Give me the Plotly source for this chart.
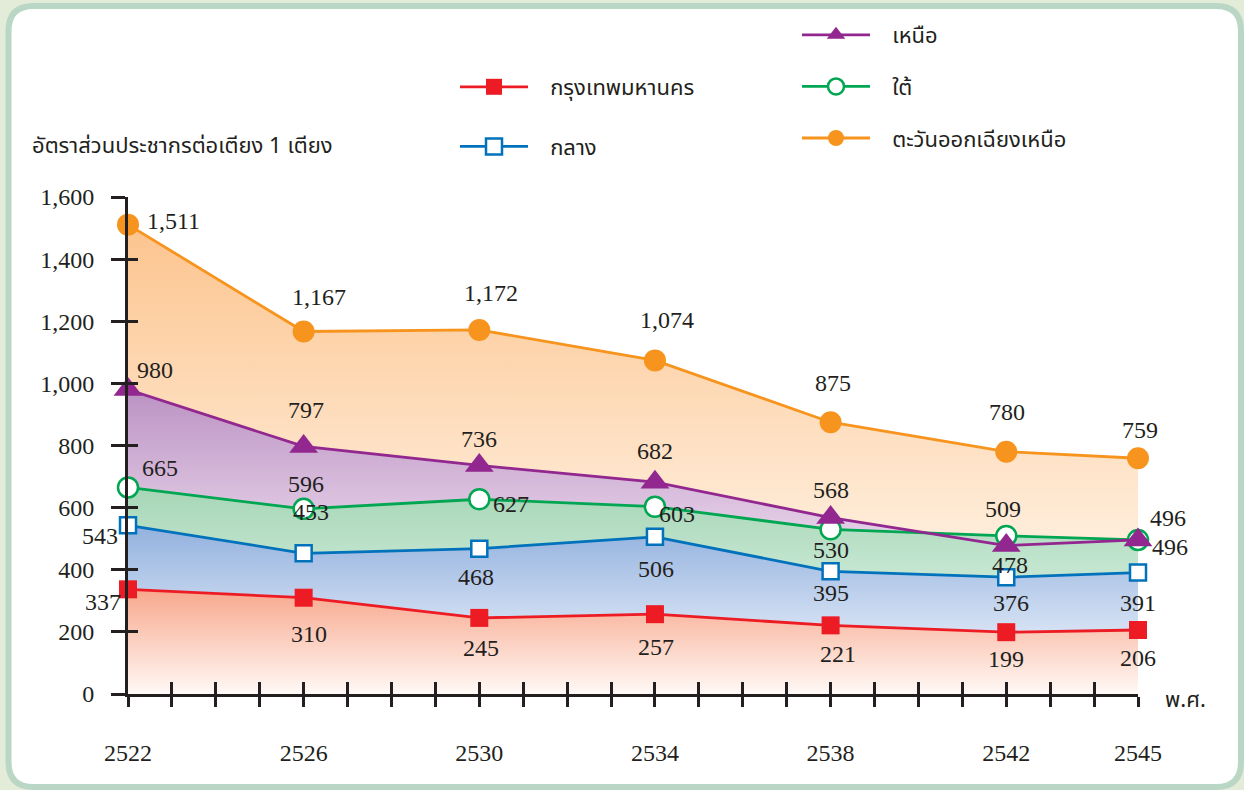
import plotly.graph_objects as go

# ---------------- data ----------------
years = [2522, 2526, 2530, 2534, 2538, 2542, 2545]
bangkok = [337, 310, 245, 257, 221, 199, 206]
central = [543, 453, 468, 506, 395, 376, 391]
south = [665, 596, 627, 603, 530, 509, 496]
north = [980, 797, 736, 682, 568, 478, 496]
northeast = [1511, 1167, 1172, 1074, 875, 780, 759]
y_ticks = [0, 200, 400, 600, 800, 1000, 1200, 1400, 1600]
names = {
    "bkk": "กรุงเทพมหานคร",
    "cen": "กลาง",
    "nor": "เหนือ",
    "sou": "ใต้",
    "ne": "ตะวันออกเฉียงเหนือ",
}
y_title = "อัตราส่วนประชากรต่อเตียง 1 เตียง"
x_unit = "พ.ศ."

# label offsets in pixels (dx right, dy down) -- styling only
off_bkk = [(-25, 13), (5, 36), (2, 30), (1, 33), (7, 29), (0, 27), (0, 28)]
off_cen = [(-28, 11), (7, -41), (-3, 28), (1, 32), (0, 22), (5, 26), (0, 30)]
off_sou = [(32, -19), (2, -25), (32, 5), (22, 7), (0, 21), (-3, -27), (30, -22)]
off_nor = [(27, -20), (2, -36), (0, -26), (0, -31), (0, -28), (4, 19), (32, 7)]
off_ne = [(45, -4), (15, -35), (12, -37), (12, -40), (2, -39), (1, -40), (2, -28)]

# ---------------- style ----------------
C_RED = "#ed1c24"
C_BLUE = "#0072bc"
C_GREEN = "#00a651"
C_PURPLE = "#92278f"
C_ORANGE = "#f7941d"
TXT = "#231f20"
NUM_FONT = "Liberation Serif, Times New Roman, serif"
THAI_FONT = "Noto Sans Thai, Noto Sans Thai UI, Loma, Garuda, Sarabun, Tlwg Typo, Noto Sans, sans-serif"
PAD = "\u00a0\u00a0\u00a0"

W, H = 1244, 790
L, R, T, B = 128, 106, 197, 96
PW, PH = W - L - R, H - T - B


def px(x):
    return (x - L) / PW


def py(y):
    return (H - B - y) / PH


fig = go.Figure()

# gradient fills (drawn back to front)
fills = [
    (northeast, "#fff1e2", "#fcc48e", 400, 1511),
    (north, "#e8d4ea", "#bb92c3", 480, 980),
    (south, "#c6e7d2", "#a6d6b6", 380, 665),
    (central, "#d6e2f4", "#92b1de", 200, 543),
    (bangkok, "#fff9f6", "#f8a78c", 0, 337),
]
for vals, c0, c1, s0, s1 in fills:
    fig.add_trace(go.Scatter(
        x=years, y=vals, mode="none", fill="tozeroy",
        fillgradient=dict(type="vertical", colorscale=[[0, c0], [1, c1]], start=s0, stop=s1),
        showlegend=False, hoverinfo="skip",
    ))

# lines + markers
series = [
    ("bkk", bangkok, C_RED, dict(symbol="square", size=18, color=C_RED, line=dict(width=0)), "legend", 1),
    ("cen", central, C_BLUE, dict(symbol="square", size=16, color="white", line=dict(width=2.5, color=C_BLUE)), "legend", 2),
    ("sou", south, C_GREEN, dict(symbol="circle", size=20, color="white", line=dict(width=2.5, color=C_GREEN)), "legend2", 2),
    ("nor", north, C_PURPLE, dict(symbol="triangle-up", size=25, color=C_PURPLE, line=dict(width=0)), "legend2", 1),
    ("ne", northeast, C_ORANGE, dict(symbol="circle", size=22, color=C_ORANGE, line=dict(width=0)), "legend2", 3),
]
for key, vals, col, mk, lg, rank in series:
    fig.add_trace(go.Scatter(
        x=years, y=vals, mode="lines+markers", name=PAD + names[key],
        line=dict(color=col, width=2.8), marker=mk, cliponaxis=False,
        legend=lg, legendgroup=key, legendrank=rank,
    ))

# dummy trace to activate overlay axes (for crossing ticks)
fig.add_trace(go.Scatter(x=years, y=bangkok, xaxis="x2", yaxis="y2", mode="none",
                         showlegend=False, hoverinfo="skip"))

# value labels
annotations = []
for vals, offs in [(bangkok, off_bkk), (central, off_cen), (south, off_sou),
                   (north, off_nor), (northeast, off_ne)]:
    for xv, yv, (dx, dy) in zip(years, vals, offs):
        annotations.append(dict(
            x=xv, y=yv, xref="x", yref="y", text=f"{yv:,}", showarrow=False,
            xshift=dx, yshift=-dy, font=dict(family=NUM_FONT, size=24, color=TXT),
        ))

annotations.append(dict(x=px(30), y=py(146), xref="paper", yref="paper", text=y_title,
                        showarrow=False, xanchor="left", yanchor="middle",
                        font=dict(family=THAI_FONT, size=22, color=TXT)))
annotations.append(dict(x=px(1163), y=py(700), xref="paper", yref="paper", text=x_unit,
                        showarrow=False, xanchor="left", yanchor="middle",
                        font=dict(family=THAI_FONT, size=22, color=TXT)))

# rounded white panel
lft, top, rgt, bot, rr = 8.5, 6, 1241, 787, 25
path = (f"M {px(lft + rr)},{py(top)} H {px(rgt - rr)} Q {px(rgt)},{py(top)} {px(rgt)},{py(top + rr)} "
        f"V {py(bot - rr)} Q {px(rgt)},{py(bot)} {px(rgt - rr)},{py(bot)} "
        f"H {px(lft + rr)} Q {px(lft)},{py(bot)} {px(lft)},{py(bot - rr)} "
        f"V {py(top + rr)} Q {px(lft)},{py(top)} {px(lft + rr)},{py(top)} Z")
shapes = [dict(type="path", path=path, xref="paper", yref="paper", layer="below",
               fillcolor="white", line=dict(color="#bad6c4", width=6))]

all_years = list(range(years[0], years[-1] + 1))

axis_common = dict(showgrid=False, zeroline=False, automargin=False)
fig.update_layout(
    width=W, height=H,
    margin=dict(l=L, r=R, t=T, b=B, autoexpand=False),
    paper_bgcolor="#e2ecd8", plot_bgcolor="rgba(0,0,0,0)",
    shapes=shapes, annotations=annotations,
    xaxis=dict(range=[years[0], years[-1]], tickmode="array", tickvals=years,
               ticktext=[str(y) for y in years], ticks="outside", ticklen=10, tickwidth=3,
               tickcolor=TXT, showline=True, linecolor=TXT, linewidth=3,
               minor=dict(tickmode="array", tickvals=all_years, ticks="outside", ticklen=10,
                          tickwidth=3, tickcolor=TXT),
               tickfont=dict(family=NUM_FONT, size=24, color=TXT), ticklabelstandoff=25,
               **axis_common),
    yaxis=dict(range=[0, 1600], tickmode="array", tickvals=y_ticks,
               ticktext=[f"{v:,}" for v in y_ticks], ticks="outside", ticklen=14, tickwidth=3,
               tickcolor=TXT, showline=True, linecolor=TXT, linewidth=3,
               tickfont=dict(family=NUM_FONT, size=24, color=TXT), ticklabelstandoff=12,
               **axis_common),
    xaxis2=dict(range=[years[0], years[-1]], overlaying="x", anchor="y2", tickmode="array",
                tickvals=all_years, ticks="inside", ticklen=12, tickwidth=3, tickcolor=TXT,
                showticklabels=False, showline=False, **axis_common),
    yaxis2=dict(range=[0, 1600], overlaying="y", anchor="x2", tickmode="array",
                tickvals=y_ticks, ticks="inside", ticklen=10, tickwidth=3, tickcolor=TXT,
                showticklabels=False, showline=False, **axis_common),
    legend=dict(x=px(455), y=py(66), xanchor="left", yanchor="top", bgcolor="rgba(0,0,0,0)",
                font=dict(family=THAI_FONT, size=22, color=TXT), itemwidth=68,
                traceorder="grouped", tracegroupgap=28),
    legend2=dict(x=px(797), y=py(14), xanchor="left", yanchor="top", bgcolor="rgba(0,0,0,0)",
                 font=dict(family=THAI_FONT, size=22, color=TXT), itemwidth=68,
                 traceorder="grouped", tracegroupgap=20),
    showlegend=True,
)

fig.write_html("out.html", config={"displayModeBar": False},
               post_script="document.body.style.margin='0';document.body.style.padding='0';")
